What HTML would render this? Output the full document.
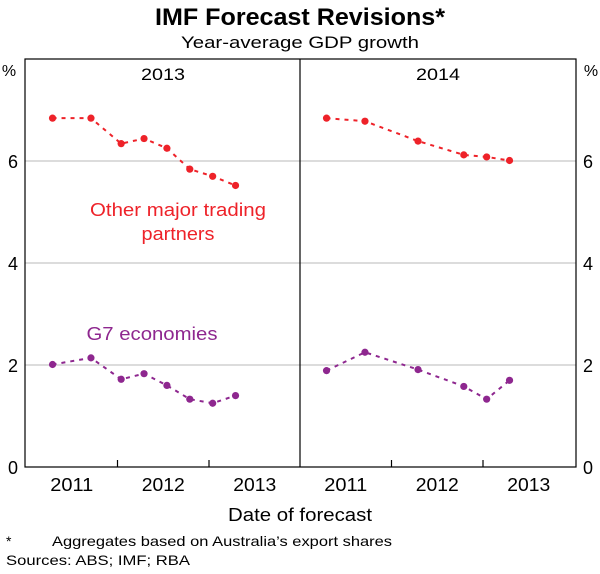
<!DOCTYPE html>
<html><head><meta charset="utf-8"><style>
body{margin:0;background:#fff;}
svg text{font-family:"Liberation Sans",Arial,sans-serif;}
</style></head><body>
<svg id="chart" width="600" height="569" viewBox="0 0 600 569" xmlns="http://www.w3.org/2000/svg">
<text x="300" y="25" text-anchor="middle" font-size="24" font-weight="bold" textLength="290" lengthAdjust="spacingAndGlyphs">IMF Forecast Revisions*</text>
<text x="300" y="48" text-anchor="middle" font-size="17" textLength="238" lengthAdjust="spacingAndGlyphs">Year-average GDP growth</text>
<text x="9" y="76" text-anchor="middle" font-size="16">%</text>
<text x="591" y="76" text-anchor="middle" font-size="16">%</text>
<g id="grid"></g>
<g id="marks"></g>
<text x="163" y="80" text-anchor="middle" font-size="17" textLength="44" lengthAdjust="spacingAndGlyphs">2013</text>
<text x="438" y="80" text-anchor="middle" font-size="17" textLength="44" lengthAdjust="spacingAndGlyphs">2014</text>
<text x="178" y="216" text-anchor="middle" font-size="18" fill="#ee2229" textLength="176" lengthAdjust="spacingAndGlyphs">Other major trading</text>
<text x="178" y="240" text-anchor="middle" font-size="18" fill="#ee2229" textLength="73" lengthAdjust="spacingAndGlyphs">partners</text>
<text x="152" y="340" text-anchor="middle" font-size="18" fill="#8e278f" textLength="131" lengthAdjust="spacingAndGlyphs">G7 economies</text>
<text x="300" y="521" text-anchor="middle" font-size="18" textLength="144" lengthAdjust="spacingAndGlyphs">Date of forecast</text>
<text x="6" y="546" font-size="14">*</text>
<text x="52" y="546" font-size="14" textLength="340" lengthAdjust="spacingAndGlyphs">Aggregates based on Australia’s export shares</text>
<text x="6" y="565" font-size="14" textLength="184" lengthAdjust="spacingAndGlyphs">Sources: ABS; IMF; RBA</text>
</svg>
<script>
const yTicks=[0,2,4,6];
const xYearLabels=["2011","2012","2013"];
const dates2013=[2011.29,2011.71,2012.04,2012.29,2012.54,2012.79,2013.04,2013.29];
const other2013=[6.84,6.84,6.34,6.44,6.25,5.84,5.70,5.52];
const g72013=[2.01,2.14,1.72,1.83,1.60,1.33,1.25,1.40];
const dates2014=[2011.29,2011.71,2012.29,2012.79,2013.04,2013.29];
const other2014=[6.84,6.78,6.39,6.12,6.08,6.01];
const g72014=[1.89,2.25,1.91,1.58,1.33,1.70];
const NS="http://www.w3.org/2000/svg";
const L=25,R=576,M=300,T=59,B=467;
function y(v){return B-(B-T)*v/8;}
function xp(panel,d){const s=panel===0?L+1:M;return s+(d-2011)*91.5;}
function mk(tag,attrs,parent){const e=document.createElementNS(NS,tag);for(const k in attrs)e.setAttribute(k,attrs[k]);parent.appendChild(e);return e;}
const grid=document.getElementById('grid'),marks=document.getElementById('marks'),svg=document.getElementById('chart');
yTicks.forEach(v=>{
 if(v>0){const g=mk('line',{x1:L,x2:R,y1:y(v),y2:y(v),stroke:'#c8c8c8','stroke-width':1.2},grid);
 
 }
 const a=mk('text',{x:13,y:y(v)+7,'text-anchor':'middle','font-size':18},svg);a.textContent=v;
 
 
 const b=mk('text',{x:588,y:y(v)+7,'text-anchor':'middle','font-size':18},svg);b.textContent=v;
 
 
});
const frame=mk('rect',{x:L,y:T,width:R-L,height:B-T,fill:'none',stroke:'#000','stroke-width':1.2},grid);


const div=mk('line',{x1:M,x2:M,y1:T,y2:B,stroke:'#000','stroke-width':1.2},grid);


[0,1].forEach(p=>{
 [2012,2013].forEach(yr=>{const t=mk('line',{x1:xp(p,yr),x2:xp(p,yr),y1:B,y2:B-7,stroke:'#000','stroke-width':1.2},grid);
 
 });
 xYearLabels.forEach((lab,i)=>{const t=mk('text',{x:xp(p,2011.5+i),y:491,'text-anchor':'middle','font-size':18,textLength:43,lengthAdjust:'spacingAndGlyphs'},svg);t.textContent=lab;
 
 });
});
function series(p,dates,vals,color,name){
 const pts=dates.map((d,i)=>xp(p,d)+','+y(vals[i])).join(' ');
 const l=mk('polyline',{points:pts,fill:'none',stroke:color,'stroke-width':2,'stroke-dasharray':'4,5'},marks);
 
 
 dates.forEach((d,i)=>{const c=mk('circle',{cx:xp(p,d),cy:y(vals[i]),r:3.6,fill:color},marks);
 
 });
}
series(0,dates2013,other2013,'#ee2229','other-2013');
series(0,dates2013,g72013,'#8e278f','g7-2013');
series(1,dates2014,other2014,'#ee2229','other-2014');
series(1,dates2014,g72014,'#8e278f','g7-2014');
</script>
</body></html>
